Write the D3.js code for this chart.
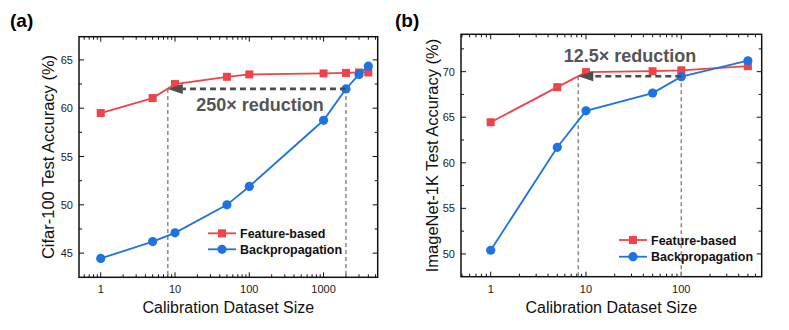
<!DOCTYPE html>
<html lang="en">
<head>
<meta charset="utf-8">
<script src="https://cdn.jsdelivr.net/npm/d3@7"></script>
<style>
  body { margin: 0; background: #fff; }
  svg { font-family: "Liberation Sans", Arial, sans-serif; }
  .tick-label { font-size: 11px; fill: #222; }
  .x-title { font-size: 16px; fill: #111; }
  .y-title { font-size: 16.5px; fill: #111; }
  .panel-label { font-size: 19px; font-weight: bold; fill: #000; }
  .note { font-size: 18px; font-weight: bold; fill: #555; }
  .legend text { font-size: 12.5px; font-weight: bold; fill: #111; }
</style>
</head>
<body>
<div id="chart"></div>
<script>
// ---- data ----
var seriesNames = ["Feature-based", "Backpropagation"];
var seriesColors = ["#ef4349", "#1f73e0"];

// panel (a) : Cifar-100
var cifarSizes = [1, 5, 10, 50, 100, 1000, 2000, 3000, 4000];
var cifarFeature = [59.5, 61.05, 62.5, 63.25, 63.5, 63.6, 63.65, 63.7, 63.7];
var cifarBackprop = [44.45, 46.2, 47.1, 50.0, 51.9, 58.75, 62.0, 63.5, 64.35];
var cifarYTicks = [45, 50, 55, 60, 65];
var cifarXTicks = [1, 10, 100, 1000];
var cifarArrow = {from: 2000, to: 8, y: 62.0, text: "250\u00d7 reduction"};

// panel (b) : ImageNet-1K
var imnetSizes = [1, 5, 10, 50, 100, 500];
var imnetFeature = [64.45, 68.3, 69.95, 70.05, 70.15, 70.6];
var imnetBackprop = [50.4, 61.7, 65.7, 67.65, 69.45, 71.2];
var imnetYTicks = [50, 55, 60, 65, 70];
var imnetXTicks = [1, 10, 100];
var imnetArrow = {from: 100, to: 8.3, y: 69.5, text: "12.5\u00d7 reduction"};

var width = 789, height = 330;

var svg = d3.select("#chart").append("svg")
    .attr("width", width)
    .attr("height", height);

function drawPanel(p) {
  var g = svg.append("g");
  var x = d3.scaleLog().domain(p.xDomain).range([p.left, p.right]);
  var y = d3.scaleLinear().domain(p.yDomain).range([p.bottom, p.top]);

  // log minor ticks 2..9 per decade
  var minorX = [];
  var lo = Math.floor(Math.log10(p.xDomain[0])), hi = Math.ceil(Math.log10(p.xDomain[1]));
  for (var e = lo; e <= hi; e++) {
    for (var m = 2; m < 10; m++) {
      var v = m * Math.pow(10, e);
      if (v >= p.xDomain[0] && v <= p.xDomain[1]) minorX.push(v);
    }
  }
  var minorY = d3.range(p.yTicks[0] - 2.5, p.yDomain[1], 2.5).filter(function(v){
    return v > p.yDomain[0] && p.yTicks.indexOf(v) < 0;
  });

  // inward ticks on all four sides
  var tickG = g.append("g").attr("stroke", "#111").attr("stroke-width", 1);
  [[p.bottom, -1], [p.top, 1]].forEach(function(s){
    tickG.selectAll(null).data(p.xTicks).enter().append("line")
      .attr("x1", d => x(d)).attr("x2", d => x(d))
      .attr("y1", s[0]).attr("y2", s[0] + s[1] * 5);
    tickG.selectAll(null).data(minorX).enter().append("line")
      .attr("x1", d => x(d)).attr("x2", d => x(d))
      .attr("y1", s[0]).attr("y2", s[0] + s[1] * 3);
  });
  [[p.left, 1], [p.right, -1]].forEach(function(s){
    tickG.selectAll(null).data(p.yTicks).enter().append("line")
      .attr("y1", d => y(d)).attr("y2", d => y(d))
      .attr("x1", s[0]).attr("x2", s[0] + s[1] * 5);
    tickG.selectAll(null).data(minorY).enter().append("line")
      .attr("y1", d => y(d)).attr("y2", d => y(d))
      .attr("x1", s[0]).attr("x2", s[0] + s[1] * 3);
  });

  // frame
  g.append("rect")
    .attr("x", p.left).attr("y", p.top)
    .attr("width", p.right - p.left).attr("height", p.bottom - p.top)
    .attr("fill", "none").attr("stroke", "#111").attr("stroke-width", 1.5);

  // tick labels
  g.selectAll(".xl").data(p.xTicks).enter().append("text")
    .attr("class", "tick-label")
    .attr("x", d => x(d)).attr("y", p.bottom + 16)
    .attr("text-anchor", "middle")
    .text(d => d);
  g.selectAll(".yl").data(p.yTicks).enter().append("text")
    .attr("class", "tick-label")
    .attr("x", p.left - 6).attr("y", d => y(d) + 4)
    .attr("text-anchor", "end")
    .text(d => d);

  // axis titles
  g.append("text").attr("class", "x-title")
    .attr("x", (p.left + p.right) / 2).attr("y", p.bottom + 36)
    .attr("text-anchor", "middle")
    .text("Calibration Dataset Size");
  g.append("text").attr("class", "y-title")
    .attr("transform", "translate(" + p.yTitleX + "," + ((p.top + p.bottom) / 2) + ") rotate(-90)")
    .attr("text-anchor", "middle")
    .text(p.yTitle);

  g.append("text").attr("class", "panel-label")
    .attr("x", p.labelX).attr("y", 27)
    .text(p.label);

  // guide lines for the reduction annotation
  var a = p.arrow;
  g.selectAll(".guide").data([a.from, a.to]).enter().append("line")
    .attr("x1", d => x(d)).attr("x2", d => x(d))
    .attr("y1", y(a.y)).attr("y2", p.bottom)
    .attr("stroke", "#8a8a8a").attr("stroke-width", 1.5)
    .attr("stroke-dasharray", "4,3");

  // series
  var series = [p.feature, p.backprop];
  series.forEach(function(vals, i){
    var pts = p.sizes.map(function(s, j){ return [s, vals[j]]; });
    var line = d3.line().x(d => x(d[0])).y(d => y(d[1]));
    g.append("path").datum(pts)
      .attr("d", line)
      .attr("fill", "none")
      .attr("stroke", seriesColors[i])
      .attr("stroke-width", 1.8);
    if (i == 0) {
      g.selectAll(null).data(pts).enter().append("rect")
        .attr("x", d => x(d[0]) - 4).attr("y", d => y(d[1]) - 4)
        .attr("width", 8).attr("height", 8)
        .attr("fill", seriesColors[i]);
    } else {
      g.selectAll(null).data(pts).enter().append("circle")
        .attr("cx", d => x(d[0])).attr("cy", d => y(d[1]))
        .attr("r", 4.6)
        .attr("fill", seriesColors[i]);
    }
  });

  // arrow
  var tipX = x(a.to), baseX = tipX + 15;
  g.append("line")
    .attr("x1", x(a.from)).attr("x2", baseX)
    .attr("y1", y(a.y)).attr("y2", y(a.y))
    .attr("stroke", "#4d4d4d").attr("stroke-width", 2.6)
    .attr("stroke-dasharray", "6,4");
  g.append("path")
    .attr("d", "M" + tipX + "," + y(a.y) + "L" + baseX + "," + (y(a.y) - 5) + "L" + baseX + "," + (y(a.y) + 5) + "Z")
    .attr("fill", "#4d4d4d");
  g.append("text").attr("class", "note")
    .attr("x", p.noteX).attr("y", p.noteY)
    .attr("text-anchor", "middle")
    .text(a.text);

  // legend
  var leg = g.append("g").attr("class", "legend");
  seriesNames.forEach(function(name, i){
    var ly = p.legendY + i * p.legendGap;
    leg.append("line")
      .attr("x1", p.legendX).attr("x2", p.legendX + 28)
      .attr("y1", ly).attr("y2", ly)
      .attr("stroke", seriesColors[i]).attr("stroke-width", 1.8);
    if (i == 0) {
      leg.append("rect").attr("x", p.legendX + 10).attr("y", ly - 4)
        .attr("width", 8).attr("height", 8).attr("fill", seriesColors[i]);
    } else {
      leg.append("circle").attr("cx", p.legendX + 14).attr("cy", ly)
        .attr("r", 4.6).attr("fill", seriesColors[i]);
    }
    leg.append("text").attr("x", p.legendX + 32).attr("y", ly + 4.5).text(name);
  });
}

drawPanel({
  left: 79, right: 377.7, top: 36.7, bottom: 277.3,
  xDomain: [0.51, 5350], yDomain: [42.5, 67.4],
  xTicks: cifarXTicks, yTicks: cifarYTicks,
  sizes: cifarSizes, feature: cifarFeature, backprop: cifarBackprop,
  arrow: cifarArrow, noteX: 260, noteY: 111,
  yTitle: "Cifar-100 Test Accuracy (%)", yTitleX: 54,
  label: "(a)", labelX: 10,
  legendX: 208, legendY: 233.3, legendGap: 16
});

drawPanel({
  left: 461, right: 761.7, top: 34.3, bottom: 276.7,
  xDomain: [0.488, 698], yDomain: [47.5, 74.1],
  xTicks: imnetXTicks, yTicks: imnetYTicks,
  sizes: imnetSizes, feature: imnetFeature, backprop: imnetBackprop,
  arrow: imnetArrow, noteX: 630, noteY: 61.5,
  yTitle: "ImageNet-1K Test Accuracy (%)", yTitleX: 438,
  label: "(b)", labelX: 395,
  legendX: 619, legendY: 240, legendGap: 16.7
});
</script>
</body>
</html>
